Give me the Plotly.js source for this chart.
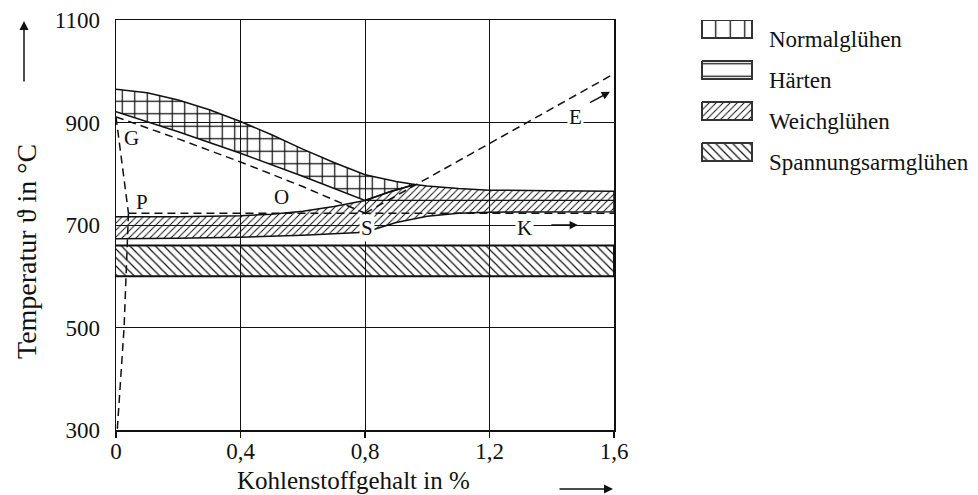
<!DOCTYPE html>
<html><head><meta charset="utf-8">
<script src="https://cdn.plot.ly/plotly-3.0.1.min.js"></script>
<style>html,body{margin:0;padding:0;background:#fff}#chart{width:978px;height:495px}</style>
</head><body><div id="chart"></div>
<script>
// ---------------- data ----------------
const xTickVals = [0, 0.4, 0.8, 1.2, 1.6];
const xTickLabels = ["0", "0,4", "0,8", "1,2", "1,6"];
const yTickVals = [300, 500, 700, 900, 1100];
const yTickLabels = ["300", "500", "700", "900", "1100"];

// Normalglühen / Härten band: upper boundary, then back along the lower boundary
const normUpperX = [0, 0.1, 0.2, 0.3, 0.4, 0.5, 0.6, 0.7, 0.8, 0.9, 0.96];
const normUpperT = [965, 958, 944, 925, 902, 876, 848, 822, 798, 785, 779];
const normLowerX = [0.88, 0.8, 0.6, 0.4, 0.2, 0];
const normLowerT = [765, 748, 795, 840, 882, 921];

// Weichglühen band: top boundary, then back along the bottom boundary
const weichTopX = [0, 0.2, 0.4, 0.5, 0.6, 0.7, 0.8, 0.88, 0.96, 1.0, 1.1, 1.2, 1.4, 1.6];
const weichTopT = [716, 716, 718, 721, 727, 736, 748, 765, 779, 776, 771, 768, 767, 766];
const weichBotX = [1.6, 1.3, 1.2, 1.1, 1.0, 0.9, 0.83, 0.8, 0.6, 0.4, 0.2, 0];
const weichBotT = [726, 726, 725, 723, 717, 705, 692, 686, 680, 676, 674, 673];
const weichMidX = [0.8, 1.6];
const weichMidT = [748, 748];

// Spannungsarmglühen band
const spannX = [0, 1.6, 1.6, 0];
const spannT = [660, 660, 600, 600];

// Fe-C phase boundaries (dashed)
const gosX = [0, 0.2, 0.4, 0.6, 0.8];        const gosT = [911, 868, 823, 775, 723];
const gpX = [0, 0.04];                        const gpT = [911, 723];
const pqX = [0.04, 0.035, 0.026, 0.015, 0.004]; const pqT = [723, 640, 500, 400, 300];
const pskX = [0.04, 1.6];                     const pskT = [723, 723];
const seX = [0.8, 1.0, 1.2, 1.4, 1.6];        const seT = [723, 791, 859, 927, 995];

// point labels
const pointNames = ["G", "P", "O", "S", "K", "E"];
const pointX = [0.05, 0.083, 0.532, 0.806, 1.314, 1.475];
const pointT = [869, 745, 755, 694, 694, 911];

// direction arrows for K and E
const kArrowX = [1.394, 1.484]; const kArrowT = [700, 700];
const eArrowX = [1.518, 1.587]; const eArrowT = [937, 960];

const legendNames = ["Normalglühen", "Härten", "Weichglühen", "Spannungsarmglühen"];
const legendShapes = ["|", "-", "/", "\\"];

// ---------------- build ----------------
const FONT = "Liberation Serif, Times New Roman, serif";
const INK = "#111";
const clear = "rgba(0,0,0,0)";

function pat(shape, size, sol) {
  return {shape: shape, size: size, solidity: sol, fgcolor: INK, bgcolor: clear, fillmode: "replace"};
}
function poly(xs, ys, shape, size, sol, lw) {
  return {type: "scatter", mode: "lines", x: xs, y: ys, fill: "toself", fillcolor: clear,
    fillpattern: pat(shape, size, sol), line: {color: INK, width: lw},
    hoverinfo: "skip", showlegend: false, xaxis: "x", yaxis: "y"};
}
function dashed(xs, ys) {
  return {type: "scatter", mode: "lines", x: xs, y: ys, line: {color: INK, width: 1.5, dash: "8px,5px"},
    hoverinfo: "skip", showlegend: false};
}

const normX = normUpperX.concat(normLowerX), normT = normUpperT.concat(normLowerT);
const weichX = weichTopX.concat(weichBotX), weichT = weichTopT.concat(weichBotT);

const traces = [
  poly(spannX, spannT, "\\", 6, 0.2, 2),
  poly(weichX, weichT, "/", 4.95, 0.2, 1.5),
  poly(normX, normT, "|", 12.5, 0.1, 1.5),
  poly(normX, normT, "-", 12.5, 0.1, 0),
  {type: "scatter", mode: "lines", x: weichMidX, y: weichMidT, line: {color: INK, width: 1.2}, hoverinfo: "skip", showlegend: false},
  dashed(gosX, gosT), dashed(gpX, gpT), dashed(pqX, pqT), dashed(pskX, pskT), dashed(seX, seT)
];

// legend swatches on a hidden helper axis pair (pixel-like units)
const LEG_X0 = 694, LEG_BOX_L = 702, LEG_BOX_W = 50, LEG_BOX_H = 18, LEG_TOP = 20, LEG_STEP = 41;
const legSizes = [14.5, 12.5, 4.95, 6];
const legSol = [0.09, 0.1, 0.2, 0.2];
const annotations = [];
legendNames.forEach(function (name, i) {
  const top = LEG_TOP + LEG_STEP * i, bot = top + LEG_BOX_H;
  traces.push({type: "scatter", mode: "lines", xaxis: "x2", yaxis: "y2",
    x: [LEG_BOX_L, LEG_BOX_L + LEG_BOX_W, LEG_BOX_L + LEG_BOX_W, LEG_BOX_L, LEG_BOX_L],
    y: [top, top, bot, bot, top], fill: "toself", fillcolor: clear,
    fillpattern: pat(legendShapes[i], legSizes[i], legSol[i]),
    line: {color: "#333", width: 2}, hoverinfo: "skip", showlegend: false});
  annotations.push({xref: "x2", yref: "y2", x: LEG_BOX_L + LEG_BOX_W + 15, y: top + 19,
    xanchor: "left", yanchor: "middle", showarrow: false, text: name,
    font: {family: FONT, size: 23, color: INK}});
});

pointNames.forEach(function (n, i) {
  const white = (n === "S" || n === "K" || n === "E");
  annotations.push({xref: "x", yref: "y", x: pointX[i], y: pointT[i], text: n, showarrow: false,
    xanchor: "center", yanchor: "middle",
    font: {family: FONT, size: 21, color: INK}, bgcolor: white ? "#fff" : clear, borderpad: 1});
});
[[kArrowX, kArrowT], [eArrowX, eArrowT]].forEach(function (a) {
  annotations.push({xref: "x", yref: "y", axref: "x", ayref: "y", x: a[0][1], y: a[1][1],
    ax: a[0][0], ay: a[1][0], text: "", showarrow: true, arrowhead: 2, arrowsize: 1.1,
    arrowwidth: 1.5, arrowcolor: INK});
});

const W = 978, H = 495, ML = 116, MR = 8, MT = 20, MB = 65;
const PW = W - ML - MR, PH = H - MT - MB;
const px = function (p) { return (p - ML) / PW; };
const py = function (p) { return (H - MB - p) / PH; };

// axis titles and their arrows
annotations.push({xref: "paper", yref: "paper", x: px(26), y: py(252), textangle: -90,
  xanchor: "center", yanchor: "middle",
  text: "Temperatur ϑ in °C", showarrow: false, font: {family: FONT, size: 28, color: INK}});
annotations.push({xref: "paper", yref: "paper", x: px(24), y: py(21), ax: 0, ay: 62, text: "",
  showarrow: true, arrowhead: 2, arrowsize: 1.2, arrowwidth: 1.5, arrowcolor: INK});
annotations.push({xref: "paper", yref: "paper", x: px(353), y: py(480),
  xanchor: "center", yanchor: "middle",
  text: "Kohlenstoffgehalt in %", showarrow: false, font: {family: FONT, size: 25, color: INK}});
annotations.push({xref: "paper", yref: "paper", x: px(613), y: py(489), ax: -55, ay: 0, text: "",
  showarrow: true, arrowhead: 2, arrowsize: 1.2, arrowwidth: 1.5, arrowcolor: INK});

const layout = {
  width: W, height: H, margin: {l: ML, r: MR, t: MT, b: MB, pad: 0},
  paper_bgcolor: "#fff", plot_bgcolor: "#fff", showlegend: false,
  font: {family: FONT, size: 23, color: INK},
  xaxis: {domain: [0, 498 / PW], range: [0, 1.6], tickvals: xTickVals, ticktext: xTickLabels,
    showgrid: true, gridcolor: INK, gridwidth: 1, zeroline: false, showline: true, mirror: true,
    linecolor: INK, linewidth: 1.5, ticks: "outside", ticklen: 6, tickwidth: 1.5, tickcolor: INK,
    ticklabelstandoff: -6, tickfont: {family: FONT, size: 23, color: INK}, fixedrange: true},
  yaxis: {range: [300, 1100], tickvals: yTickVals, ticktext: yTickLabels,
    showgrid: true, gridcolor: INK, gridwidth: 1, zeroline: false, showline: true, mirror: true,
    linecolor: INK, linewidth: 1.5, ticks: "", ticklabelstandoff: 10,
    tickfont: {family: FONT, size: 23, color: INK}, fixedrange: true},
  xaxis2: {domain: [px(LEG_X0), 1], range: [LEG_X0, W - MR], visible: false, fixedrange: true, anchor: "y2"},
  yaxis2: {domain: [0, 1], range: [H - MB, MT], visible: false, fixedrange: true, anchor: "x2"},
  annotations: annotations
};

Plotly.newPlot("chart", traces, layout, {staticPlot: true, displayModeBar: false});
</script></body></html>
